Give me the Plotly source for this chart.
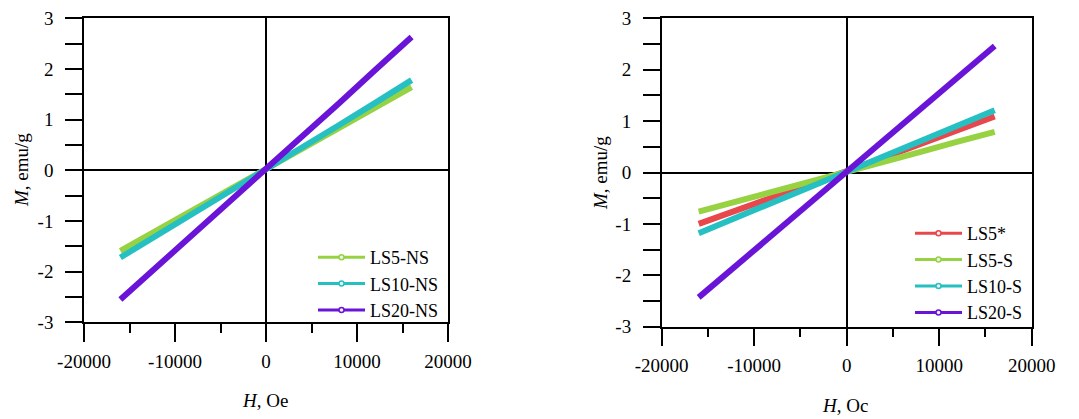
import plotly.graph_objects as go

# ---------------- data ----------------
H = [-16000, -12000, -8000, -4000, 0, 4000, 8000, 12000, 16000]

left_names = ["LS5-NS", "LS10-NS", "LS20-NS"]
ls5_ns = [-1.59, -1.19, -0.79, -0.39, 0.01, 0.42, 0.82, 1.23, 1.64]
ls10_ns = [-1.72, -1.29, -0.86, -0.42, 0.01, 0.45, 0.89, 1.33, 1.78]
ls20_ns = [-2.55, -1.91, -1.27, -0.63, 0.02, 0.67, 1.32, 1.98, 2.63]

right_names = ["LS5*", "LS5-S", "LS10-S", "LS20-S"]
ls5_star = [-1.00, -0.75, -0.49, -0.23, 0.03, 0.29, 0.55, 0.82, 1.09]
ls5_s = [-0.76, -0.57, -0.37, -0.18, 0.01, 0.21, 0.40, 0.60, 0.79]
ls10_s = [-1.18, -0.88, -0.58, -0.28, 0.02, 0.32, 0.62, 0.92, 1.21]
ls20_s = [-2.43, -1.82, -1.21, -0.59, 0.02, 0.63, 1.24, 1.85, 2.46]

x_ticks = [-20000, -10000, 0, 10000, 20000]
x_ticktext = ["-20000", "-10000", "0", "10000", "20000"]
y_ticks = [-3, -2, -1, 0, 1, 2, 3]
y_ticktext = ["-3", "-2", "-1", "0", "1", "2", "3"]

x_title_left = "<i>H</i>, Oe"
x_title_right = "<i>H</i>, Oc"
y_title = "<i>M</i>, emu/g"

GREEN = "#97d243"
CYAN = "#26c0c2"
PURPLE = "#6a14d8"
RED = "#e8474b"

OFF = 8  # page body margin
W, Hh = 1079 - OFF, 419 - OFF
FONT = "Liberation Serif"

fig = go.Figure()


def add_series(x, y, name, color, xa, ya, legend):
    fig.add_trace(go.Scatter(x=x, y=y, mode="lines", line=dict(color=color, width=6),
                             xaxis=xa, yaxis=ya, showlegend=False, hoverinfo="skip"))
    fig.add_trace(go.Scatter(x=[None], y=[None], mode="lines+markers", name=name,
                             line=dict(color=color, width=3),
                             marker=dict(symbol="circle", size=5, color="#f0f0f0",
                                         line=dict(color=color, width=1.5)),
                             xaxis=xa, yaxis=ya, legend=legend))


for name, vals, col in zip(left_names, [ls5_ns, ls10_ns, ls20_ns], [GREEN, CYAN, PURPLE]):
    add_series(H, vals, name, col, "x", "y", "legend")
for name, vals, col in zip(right_names, [ls5_star, ls5_s, ls10_s, ls20_s], [RED, GREEN, CYAN, PURPLE]):
    add_series(H, vals, name, col, "x2", "y2", "legend2")


def px(v):
    return (v - OFF) / W


def py(v):
    return 1 - (v - OFF) / Hh


tickfont = dict(family=FONT, size=19, color="black")


def xaxis_cfg(d0, d1, anchor):
    return dict(domain=[px(d0), px(d1)], anchor=anchor, range=[-20000, 20000],
                tickmode="array", tickvals=x_ticks, ticktext=x_ticktext,
                ticks="outside", ticklen=18, tickwidth=1.5, tickcolor="black",
                minor=dict(dtick=5000, tick0=0, ticks="outside", ticklen=9,
                           tickwidth=1.5, tickcolor="black"),
                showline=True, linecolor="black", linewidth=1.5, mirror=True,
                showgrid=False, zeroline=True, zerolinecolor="black", zerolinewidth=1.5,
                tickfont=tickfont, ticklabelstandoff=3, automargin=False,
                ticklabeloverflow="allow")


def yaxis_cfg(d0, d1, anchor):
    return dict(domain=[py(d1), py(d0)], anchor=anchor, range=[-3, 3],
                tickmode="array", tickvals=y_ticks, ticktext=y_ticktext,
                ticks="outside", ticklen=17, tickwidth=1.5, tickcolor="black",
                minor=dict(dtick=0.5, tick0=0, ticks="outside", ticklen=17,
                           tickwidth=1.5, tickcolor="black"),
                showline=True, linecolor="black", linewidth=1.5, mirror=True,
                showgrid=False, zeroline=True, zerolinecolor="black", zerolinewidth=1.5,
                tickfont=tickfont, ticklabelstandoff=8, automargin=False,
                ticklabeloverflow="allow")


legfont = dict(family=FONT, size=18, color="black")

fig.update_layout(
    width=W, height=Hh,
    margin=dict(l=0, r=0, t=0, b=0, pad=0, autoexpand=False),
    paper_bgcolor="white", plot_bgcolor="white",
    xaxis=xaxis_cfg(84, 448, "y"),
    yaxis=yaxis_cfg(18.3, 322.3, "x"),
    xaxis2=xaxis_cfg(661.7, 1031.7, "y2"),
    yaxis2=yaxis_cfg(18.3, 326.7, "x2"),
    legend=dict(x=px(313), y=py(239), xanchor="left", yanchor="top",
                bgcolor="rgba(0,0,0,0)", font=legfont, itemwidth=47, tracegroupgap=0),
    legend2=dict(x=px(910), y=py(215), xanchor="left", yanchor="top",
                 bgcolor="rgba(0,0,0,0)", font=legfont, itemwidth=47, tracegroupgap=0),
    showlegend=True,
)

titlefont = dict(family=FONT, size=19, color="black")
fig.add_annotation(text=x_title_left, x=px(265), y=py(400), xref="paper", yref="paper",
                   showarrow=False, font=titlefont, xanchor="center", yanchor="middle")
fig.add_annotation(text=x_title_right, x=px(845), y=py(405), xref="paper", yref="paper",
                   showarrow=False, font=titlefont, xanchor="center", yanchor="middle")
fig.add_annotation(text=y_title, x=px(22), y=py(170), xref="paper", yref="paper",
                   showarrow=False, font=titlefont, textangle=-90,
                   xanchor="center", yanchor="middle")
fig.add_annotation(text=y_title, x=px(600), y=py(173), xref="paper", yref="paper",
                   showarrow=False, font=titlefont, textangle=-90,
                   xanchor="center", yanchor="middle")

fig.write_html("out.html")
